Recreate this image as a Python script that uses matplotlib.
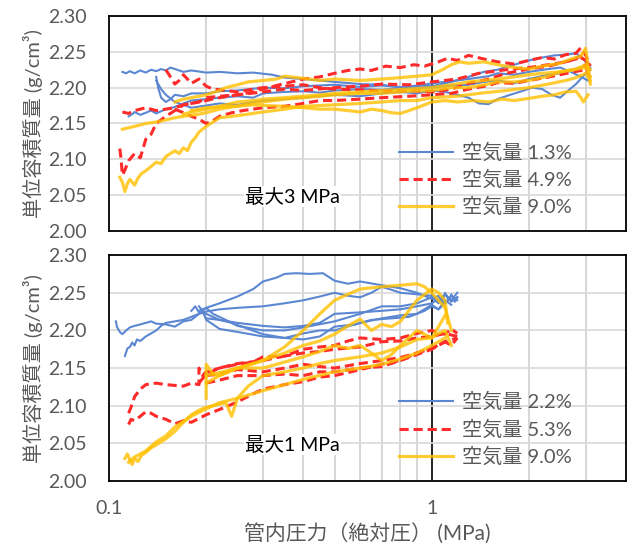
import matplotlib
matplotlib.use("Agg")
import matplotlib.pyplot as plt
from matplotlib.ticker import FixedLocator, NullFormatter, FixedFormatter

plt.rcParams["font.family"] = ["Lato", "Noto Sans CJK JP", "DejaVu Sans"]

# ---- 最大3 MPa (top) ----
top_blue_x = [
    [0.11, 0.113, 0.116, 0.12, 0.125, 0.13, 0.135, 0.14, 0.145, 0.15, 0.155, 0.16, 0.17, 0.18, 0.2, 0.22, 0.25, 0.28, 0.32, 0.35, 0.4, 0.45, 0.5, 0.6, 0.7, 0.8, 0.9, 1.0, 1.15, 1.3, 1.45, 1.6, 1.8, 2.0, 2.2, 2.4, 2.6, 2.8, 2.95, 3.05, 3.1],
    [0.115, 0.118, 0.12, 0.125, 0.13, 0.135, 0.14, 0.15, 0.16, 0.17, 0.18, 0.2, 0.22, 0.25, 0.28, 0.3, 0.35, 0.4, 0.45, 0.5, 0.6, 0.7, 0.8, 1.0, 1.15, 1.3, 1.45, 1.6, 1.8, 2.0, 2.3, 2.5, 2.8, 3.0, 3.1],
    [0.14, 0.142, 0.145, 0.15, 0.155, 0.16, 0.17, 0.18, 0.2, 0.22, 0.25, 0.3, 0.35, 0.4, 0.5, 0.6, 0.7, 0.85, 1.0, 1.15, 1.3, 1.5, 1.6, 1.8, 2.0, 2.3, 2.5, 2.7, 2.9, 3.05],
    [0.14, 0.145, 0.15, 0.16, 0.17, 0.18, 0.2, 0.22, 0.25, 0.3, 0.35, 0.4, 0.5, 0.6, 0.7, 0.8, 0.9, 1.0, 1.1, 1.2, 1.3, 1.4, 1.5, 1.6, 1.75, 1.9, 2.05, 2.2, 2.35, 2.5, 2.65, 2.8, 3.0],
]
top_blue_y = [
    [2.222, 2.220, 2.223, 2.220, 2.224, 2.221, 2.225, 2.223, 2.226, 2.224, 2.228, 2.226, 2.222, 2.224, 2.221, 2.222, 2.220, 2.221, 2.218, 2.214, 2.212, 2.210, 2.208, 2.205, 2.204, 2.200, 2.203, 2.202, 2.208, 2.215, 2.222, 2.225, 2.232, 2.238, 2.242, 2.245, 2.246, 2.248, 2.240, 2.232, 2.225],
    [2.160, 2.163, 2.166, 2.162, 2.165, 2.168, 2.164, 2.170, 2.173, 2.178, 2.182, 2.184, 2.186, 2.188, 2.186, 2.192, 2.194, 2.195, 2.193, 2.196, 2.198, 2.197, 2.199, 2.200, 2.203, 2.204, 2.208, 2.210, 2.206, 2.212, 2.218, 2.220, 2.226, 2.230, 2.228],
    [2.215, 2.200, 2.186, 2.180, 2.184, 2.190, 2.188, 2.192, 2.192, 2.195, 2.196, 2.200, 2.199, 2.202, 2.204, 2.201, 2.203, 2.200, 2.206, 2.209, 2.212, 2.216, 2.220, 2.218, 2.222, 2.226, 2.228, 2.222, 2.215, 2.210],
    [2.210, 2.198, 2.190, 2.180, 2.176, 2.172, 2.175, 2.178, 2.176, 2.182, 2.184, 2.186, 2.190, 2.188, 2.192, 2.194, 2.192, 2.196, 2.194, 2.190, 2.186, 2.178, 2.177, 2.184, 2.190, 2.195, 2.200, 2.198, 2.190, 2.186, 2.196, 2.205, 2.220],
]

top_red_x = [
    [0.11, 0.115, 0.12, 0.125, 0.13, 0.14, 0.15, 0.16, 0.17, 0.18, 0.2, 0.22, 0.25, 0.28, 0.3, 0.33, 0.36, 0.4, 0.45, 0.5, 0.55, 0.6, 0.65, 0.72, 0.8, 0.88, 0.95, 1.05, 1.12, 1.2, 1.3, 1.45, 1.6, 1.8, 2.0, 2.2, 2.4, 2.6, 2.8, 2.9, 3.0, 3.1],
    [0.108, 0.109, 0.11, 0.112, 0.115, 0.12, 0.125, 0.13, 0.135, 0.14, 0.15, 0.16, 0.17, 0.19, 0.2, 0.22, 0.25, 0.3, 0.35, 0.4, 0.5, 0.6, 0.7, 0.85, 1.0, 1.2, 1.4, 1.7, 2.0, 2.3, 2.6, 2.9, 3.0, 3.1],
    [0.15, 0.155, 0.16, 0.165, 0.17, 0.18, 0.19, 0.2, 0.21, 0.23, 0.25, 0.28, 0.3, 0.35, 0.4, 0.45, 0.5, 0.6, 0.7, 0.85, 1.0, 1.15, 1.3, 1.5, 1.7, 2.0, 2.3, 2.5, 2.7, 2.9, 3.05],
    [0.16, 0.17, 0.18, 0.19, 0.2, 0.21, 0.22, 0.24, 0.26, 0.3, 0.35, 0.4, 0.45, 0.5, 0.6, 0.7, 0.85, 1.0, 1.15, 1.3, 1.5, 1.6, 1.8, 2.0, 2.25, 2.5, 2.75, 3.0, 3.1],
]
top_red_y = [
    [2.166, 2.164, 2.168, 2.170, 2.172, 2.168, 2.170, 2.172, 2.176, 2.178, 2.182, 2.186, 2.190, 2.194, 2.198, 2.203, 2.207, 2.212, 2.215, 2.220, 2.224, 2.226, 2.224, 2.230, 2.228, 2.232, 2.230, 2.236, 2.241, 2.238, 2.245, 2.240, 2.236, 2.233, 2.238, 2.242, 2.240, 2.246, 2.248, 2.256, 2.245, 2.230],
    [2.115, 2.100, 2.078, 2.085, 2.098, 2.108, 2.102, 2.128, 2.135, 2.150, 2.160, 2.168, 2.176, 2.180, 2.186, 2.188, 2.190, 2.194, 2.198, 2.196, 2.200, 2.202, 2.205, 2.204, 2.208, 2.212, 2.220, 2.225, 2.228, 2.232, 2.236, 2.242, 2.238, 2.230],
    [2.225, 2.215, 2.205, 2.210, 2.218, 2.206, 2.212, 2.202, 2.198, 2.196, 2.194, 2.198, 2.200, 2.202, 2.204, 2.200, 2.198, 2.197, 2.195, 2.196, 2.194, 2.198, 2.206, 2.212, 2.220, 2.226, 2.230, 2.234, 2.238, 2.244, 2.222],
    [2.170, 2.165, 2.160, 2.156, 2.150, 2.154, 2.160, 2.165, 2.168, 2.172, 2.174, 2.178, 2.182, 2.182, 2.184, 2.186, 2.188, 2.190, 2.192, 2.198, 2.203, 2.207, 2.206, 2.210, 2.214, 2.218, 2.222, 2.225, 2.215],
]

top_yellow_x = [
    [0.108, 0.11, 0.112, 0.114, 0.116, 0.12, 0.123, 0.126, 0.13, 0.135, 0.14, 0.145, 0.15, 0.155, 0.16, 0.165, 0.17, 0.175, 0.18, 0.185, 0.19, 0.2, 0.21, 0.22, 0.24, 0.26, 0.3, 0.35, 0.4, 0.5, 0.6, 0.7, 0.8, 0.9, 1.0, 1.2, 1.4, 1.7, 2.0, 2.3, 2.6, 2.8, 3.0, 3.1],
    [0.11, 0.115, 0.12, 0.125, 0.13, 0.14, 0.15, 0.16, 0.17, 0.19, 0.2, 0.22, 0.24, 0.26, 0.3, 0.35, 0.4, 0.45, 0.5, 0.6, 0.7, 0.85, 1.0, 1.15, 1.3, 1.5, 1.6, 1.8, 2.0, 2.3, 2.5, 2.8, 3.0, 3.1],
    [0.16, 0.17, 0.18, 0.19, 0.2, 0.22, 0.23, 0.25, 0.27, 0.3, 0.33, 0.35, 0.4, 0.45, 0.5, 0.6, 0.7, 0.8, 0.9, 1.0, 1.08, 1.15, 1.22, 1.3, 1.45, 1.6, 1.8, 2.0, 2.2, 2.5, 2.7, 2.9, 3.0, 3.05, 3.1],
    [0.18, 0.19, 0.2, 0.22, 0.25, 0.28, 0.3, 0.35, 0.4, 0.45, 0.5, 0.55, 0.6, 0.65, 0.7, 0.75, 0.8, 0.85, 0.9, 0.95, 1.0, 1.1, 1.2, 1.35, 1.5, 1.65, 1.8, 2.0, 2.2, 2.4, 2.6, 2.8, 2.9, 2.95, 3.05],
    [0.17, 0.18, 0.2, 0.22, 0.25, 0.28, 0.3, 0.35, 0.4, 0.45, 0.5, 0.6, 0.7, 0.85, 1.0, 1.15, 1.3, 1.45, 1.6, 1.8, 2.0, 2.2, 2.5, 2.75, 3.0, 3.1],
]
top_yellow_y = [
    [2.075, 2.068, 2.055, 2.066, 2.072, 2.064, 2.074, 2.080, 2.084, 2.090, 2.096, 2.094, 2.104, 2.108, 2.112, 2.108, 2.116, 2.112, 2.124, 2.130, 2.138, 2.146, 2.152, 2.158, 2.160, 2.162, 2.166, 2.170, 2.174, 2.176, 2.178, 2.180, 2.182, 2.182, 2.186, 2.188, 2.192, 2.196, 2.200, 2.205, 2.210, 2.214, 2.220, 2.210],
    [2.142, 2.144, 2.146, 2.148, 2.150, 2.152, 2.155, 2.158, 2.160, 2.163, 2.165, 2.170, 2.173, 2.176, 2.180, 2.184, 2.186, 2.188, 2.190, 2.192, 2.192, 2.195, 2.196, 2.200, 2.200, 2.205, 2.208, 2.208, 2.210, 2.216, 2.222, 2.226, 2.232, 2.225],
    [2.180, 2.184, 2.186, 2.188, 2.190, 2.196, 2.200, 2.204, 2.208, 2.210, 2.212, 2.216, 2.213, 2.210, 2.212, 2.210, 2.212, 2.214, 2.216, 2.218, 2.225, 2.232, 2.236, 2.234, 2.236, 2.232, 2.228, 2.226, 2.230, 2.234, 2.240, 2.244, 2.255, 2.230, 2.205],
    [2.168, 2.170, 2.172, 2.173, 2.174, 2.176, 2.175, 2.174, 2.172, 2.170, 2.170, 2.168, 2.166, 2.170, 2.168, 2.165, 2.164, 2.168, 2.172, 2.176, 2.180, 2.182, 2.180, 2.182, 2.180, 2.184, 2.182, 2.185, 2.188, 2.190, 2.194, 2.195, 2.186, 2.180, 2.190],
    [2.163, 2.166, 2.170, 2.174, 2.180, 2.182, 2.184, 2.186, 2.188, 2.190, 2.192, 2.194, 2.196, 2.198, 2.200, 2.204, 2.208, 2.210, 2.212, 2.215, 2.218, 2.220, 2.222, 2.225, 2.228, 2.215],
]

# ---- 最大1 MPa (bottom) ----
bot_blue_x = [
    [0.105, 0.106, 0.108, 0.11, 0.113, 0.116, 0.12, 0.125, 0.13, 0.135, 0.14, 0.15, 0.16, 0.17, 0.18, 0.19, 0.2, 0.22, 0.25, 0.28, 0.3, 0.33, 0.35, 0.38, 0.42, 0.46, 0.5, 0.55, 0.6, 0.7, 0.8, 0.9, 1.0, 1.05, 1.08, 1.1, 1.13, 1.15, 1.18, 1.2],
    [0.112, 0.114, 0.116, 0.118, 0.12, 0.122, 0.125, 0.13, 0.135, 0.14, 0.145, 0.15, 0.16, 0.17, 0.18, 0.19, 0.2, 0.22, 0.25, 0.3, 0.35, 0.4, 0.45, 0.5, 0.55, 0.6, 0.65, 0.7, 0.75, 0.8, 0.9, 1.0, 1.05, 1.1, 1.15, 1.2],
    [0.18, 0.185, 0.19, 0.2, 0.22, 0.25, 0.3, 0.35, 0.4, 0.45, 0.5, 0.6, 0.7, 0.8, 0.9, 1.0, 1.05, 1.1, 1.15, 1.2],
    [0.19, 0.195, 0.2, 0.21, 0.22, 0.25, 0.3, 0.35, 0.4, 0.45, 0.5, 0.6, 0.7, 0.8, 0.9, 1.0, 1.05, 1.1, 1.15],
    [0.19, 0.2, 0.21, 0.23, 0.25, 0.3, 0.35, 0.4, 0.5, 0.6, 0.7, 0.8, 0.9, 1.0, 1.05, 1.1, 1.15, 1.2],
    [0.2, 0.22, 0.24, 0.27, 0.3, 0.35, 0.4, 0.45, 0.5, 0.58, 0.65, 0.75, 0.85, 0.95, 1.0, 1.05, 1.1],
]
bot_blue_y = [
    [2.212, 2.204, 2.198, 2.195, 2.200, 2.204, 2.206, 2.208, 2.210, 2.212, 2.209, 2.208, 2.205, 2.212, 2.214, 2.222, 2.230, 2.236, 2.245, 2.255, 2.265, 2.270, 2.275, 2.276, 2.275, 2.276, 2.266, 2.262, 2.265, 2.260, 2.256, 2.250, 2.242, 2.246, 2.238, 2.250, 2.240, 2.248, 2.238, 2.244],
    [2.166, 2.176, 2.178, 2.184, 2.180, 2.188, 2.186, 2.192, 2.196, 2.200, 2.206, 2.210, 2.212, 2.214, 2.218, 2.222, 2.225, 2.228, 2.230, 2.232, 2.236, 2.240, 2.245, 2.250, 2.246, 2.244, 2.250, 2.258, 2.254, 2.250, 2.248, 2.246, 2.240, 2.248, 2.238, 2.244],
    [2.226, 2.232, 2.224, 2.222, 2.214, 2.210, 2.206, 2.204, 2.206, 2.210, 2.222, 2.224, 2.226, 2.228, 2.232, 2.236, 2.242, 2.236, 2.246, 2.240],
    [2.232, 2.226, 2.214, 2.208, 2.202, 2.198, 2.192, 2.190, 2.196, 2.200, 2.200, 2.210, 2.216, 2.220, 2.222, 2.234, 2.228, 2.240, 2.234],
    [2.226, 2.230, 2.222, 2.214, 2.206, 2.200, 2.200, 2.204, 2.212, 2.222, 2.232, 2.232, 2.236, 2.244, 2.236, 2.248, 2.240, 2.250],
    [2.216, 2.214, 2.210, 2.202, 2.195, 2.190, 2.188, 2.192, 2.205, 2.208, 2.214, 2.216, 2.218, 2.226, 2.232, 2.228, 2.236],
]

bot_red_x = [
    [0.115, 0.117, 0.12, 0.125, 0.13, 0.135, 0.14, 0.15, 0.16, 0.17, 0.18, 0.2, 0.22, 0.25, 0.28, 0.3, 0.35, 0.4, 0.45, 0.5, 0.55, 0.6, 0.7, 0.8, 0.9, 1.0, 1.1, 1.15, 1.2],
    [0.115, 0.118, 0.12, 0.125, 0.13, 0.14, 0.15, 0.16, 0.17, 0.18, 0.19, 0.19, 0.195, 0.2, 0.22, 0.25, 0.28, 0.3, 0.35, 0.4, 0.45, 0.5, 0.6, 0.7, 0.8, 0.9, 1.0, 1.1, 1.2],
    [0.19, 0.2, 0.22, 0.25, 0.3, 0.35, 0.4, 0.45, 0.5, 0.55, 0.6, 0.7, 0.8, 0.9, 1.0, 1.1, 1.15, 1.2],
    [0.2, 0.22, 0.25, 0.3, 0.35, 0.4, 0.45, 0.5, 0.6, 0.7, 0.8, 0.9, 1.0, 1.1],
    [0.2, 0.22, 0.25, 0.3, 0.35, 0.4, 0.45, 0.5, 0.6, 0.7, 0.8, 0.9, 1.0, 1.1, 1.2],
]
bot_red_y = [
    [2.075, 2.082, 2.080, 2.086, 2.092, 2.090, 2.086, 2.082, 2.076, 2.080, 2.078, 2.088, 2.095, 2.105, 2.116, 2.122, 2.128, 2.132, 2.138, 2.140, 2.144, 2.148, 2.155, 2.160, 2.170, 2.176, 2.185, 2.180, 2.190],
    [2.090, 2.102, 2.112, 2.122, 2.128, 2.130, 2.128, 2.127, 2.126, 2.130, 2.128, 2.150, 2.140, 2.145, 2.150, 2.155, 2.158, 2.165, 2.166, 2.170, 2.172, 2.175, 2.178, 2.185, 2.186, 2.190, 2.192, 2.196, 2.192],
    [2.130, 2.142, 2.150, 2.156, 2.160, 2.166, 2.175, 2.178, 2.180, 2.186, 2.190, 2.188, 2.190, 2.196, 2.200, 2.195, 2.202, 2.196],
    [2.140, 2.142, 2.148, 2.145, 2.150, 2.155, 2.152, 2.150, 2.156, 2.160, 2.164, 2.170, 2.176, 2.185],
    [2.130, 2.134, 2.140, 2.140, 2.142, 2.140, 2.145, 2.145, 2.150, 2.152, 2.160, 2.168, 2.175, 2.185, 2.190],
]

bot_yellow_x = [
    [0.112, 0.114, 0.116, 0.118, 0.12, 0.123, 0.126, 0.13, 0.135, 0.14, 0.15, 0.16, 0.17, 0.18, 0.19, 0.2, 0.21, 0.22, 0.24, 0.25, 0.28, 0.3, 0.35, 0.4, 0.5, 0.6, 0.7, 0.8, 0.9, 1.0, 1.1],
    [0.115, 0.12, 0.125, 0.13, 0.14, 0.15, 0.16, 0.18, 0.2, 0.21, 0.23, 0.24, 0.25, 0.27, 0.3, 0.35, 0.4, 0.45, 0.5, 0.6, 0.7, 0.8, 0.9, 1.0, 1.05, 1.1],
    [0.2, 0.2, 0.21, 0.22, 0.25, 0.28, 0.3, 0.35, 0.4, 0.45, 0.5, 0.55, 0.6, 0.7, 0.8, 0.9, 0.95, 1.0, 1.05, 1.1, 1.15],
    [0.2, 0.22, 0.25, 0.28, 0.3, 0.35, 0.4, 0.45, 0.5, 0.55, 0.6, 0.65, 0.7, 0.75, 0.8, 0.9, 1.0, 1.05, 1.1, 1.12],
    [0.2, 0.22, 0.25, 0.3, 0.35, 0.4, 0.45, 0.5, 0.55, 0.6, 0.65, 0.7, 0.75, 0.8, 0.9, 1.0, 1.05, 1.1, 1.15],
]
bot_yellow_y = [
    [2.030, 2.036, 2.028, 2.022, 2.030, 2.026, 2.034, 2.038, 2.044, 2.048, 2.056, 2.066, 2.078, 2.088, 2.094, 2.098, 2.100, 2.104, 2.108, 2.110, 2.116, 2.120, 2.128, 2.135, 2.145, 2.150, 2.155, 2.162, 2.170, 2.180, 2.190],
    [2.025, 2.032, 2.036, 2.040, 2.052, 2.060, 2.072, 2.086, 2.096, 2.100, 2.104, 2.086, 2.110, 2.126, 2.140, 2.145, 2.150, 2.156, 2.160, 2.165, 2.170, 2.178, 2.188, 2.190, 2.205, 2.220],
    [2.110, 2.155, 2.142, 2.140, 2.150, 2.156, 2.160, 2.178, 2.200, 2.222, 2.240, 2.248, 2.255, 2.258, 2.260, 2.262, 2.258, 2.250, 2.240, 2.230, 2.200],
    [2.140, 2.144, 2.150, 2.156, 2.160, 2.170, 2.180, 2.186, 2.195, 2.206, 2.215, 2.200, 2.208, 2.205, 2.212, 2.240, 2.255, 2.250, 2.240, 2.210],
    [2.130, 2.140, 2.150, 2.150, 2.158, 2.165, 2.172, 2.180, 2.176, 2.180, 2.170, 2.160, 2.168, 2.180, 2.200, 2.190, 2.196, 2.200, 2.180],
]

top_labels = ["空気量 1.3%", "空気量 4.9%", "空気量 9.0%"]
bot_labels = ["空気量 2.2%", "空気量 5.3%", "空気量 9.0%"]

BLUE = "#5B87D2"
RED = "#FF2A2A"
YELLOW = "#FFC000"
GRAY = "#595959"


def draw_panel(ax, bx, by, rx, ry, yx, yy, labels, note, leg_y):
    for i, (x, y) in enumerate(zip(bx, by)):
        ax.plot(x, y, color=BLUE, lw=1.5, label=labels[0] if i == 0 else None, zorder=3)
    for i, (x, y) in enumerate(zip(rx, ry)):
        ax.plot(x, y, color=RED, lw=2.2, ls=(0, (3, 1.6)),
                label=labels[1] if i == 0 else None, zorder=4)
    for i, (x, y) in enumerate(zip(yx, yy)):
        ax.plot(x, y, color=YELLOW, lw=2.3, alpha=0.8,
                label=labels[2] if i == 0 else None, zorder=5)

    ax.set_xscale("log")
    ax.set_xlim(0.1, 4.0)
    ax.set_ylim(2.0, 2.3)
    ax.set_yticks([2.0, 2.05, 2.1, 2.15, 2.2, 2.25, 2.3])
    ax.set_yticklabels(["2.00", "2.05", "2.10", "2.15", "2.20", "2.25", "2.30"])
    ax.xaxis.set_major_locator(FixedLocator([0.1, 1]))
    ax.xaxis.set_minor_locator(FixedLocator([0.2, 0.3, 0.4, 0.5, 0.6, 0.7, 0.8, 0.9, 2, 3]))
    ax.xaxis.set_minor_formatter(NullFormatter())
    ax.grid(True, which="minor", axis="x", color="#D0D0D0", lw=1.2, zorder=0)
    ax.grid(True, which="major", axis="y", color="#D9D9D9", lw=1.2, zorder=0)
    ax.axvline(1, color="black", lw=1.2, zorder=1)
    ax.tick_params(which="both", length=0, labelsize=14, labelcolor=GRAY)
    ax.tick_params(axis="y", pad=16)
    for s in ax.spines.values():
        s.set_color("black")
        s.set_linewidth(1.3)
    ax.set_ylabel("単位容積質量 (g/cm³)", fontsize=14.5, color=GRAY, labelpad=4)
    ax.text(0.263, 0.16, note, transform=ax.transAxes, fontsize=14,
            color="black", va="center", ha="left", zorder=6,
            bbox=dict(facecolor="white", edgecolor="none", pad=1))
    ax.legend(loc="upper left", bbox_to_anchor=(0.545, leg_y), frameon=False,
              fontsize=14.5, labelcolor=GRAY, handlelength=2.7, handletextpad=0.45,
              labelspacing=0.4, borderaxespad=0)


fig = plt.figure(figsize=(6.32, 5.51), dpi=100)
ax1 = fig.add_axes([0.1725, 0.5808, 0.818, 0.3902])
ax2 = fig.add_axes([0.1725, 0.127, 0.818, 0.410])

draw_panel(ax1, top_blue_x, top_blue_y, top_red_x, top_red_y,
           top_yellow_x, top_yellow_y, top_labels, "最大3 MPa", 0.45)
draw_panel(ax2, bot_blue_x, bot_blue_y, bot_red_x, bot_red_y,
           bot_yellow_x, bot_yellow_y, bot_labels, "最大1 MPa", 0.43)

ax1.tick_params(axis="x", which="both", labelbottom=False)
ax2.xaxis.set_major_formatter(FixedFormatter(["0.1", "1"]))
ax2.tick_params(axis="x", pad=14)
ax2.set_xlabel("管内圧力（絶対圧） (MPa)", fontsize=15, color=GRAY, labelpad=4)

fig.savefig("out.png", dpi=100)
